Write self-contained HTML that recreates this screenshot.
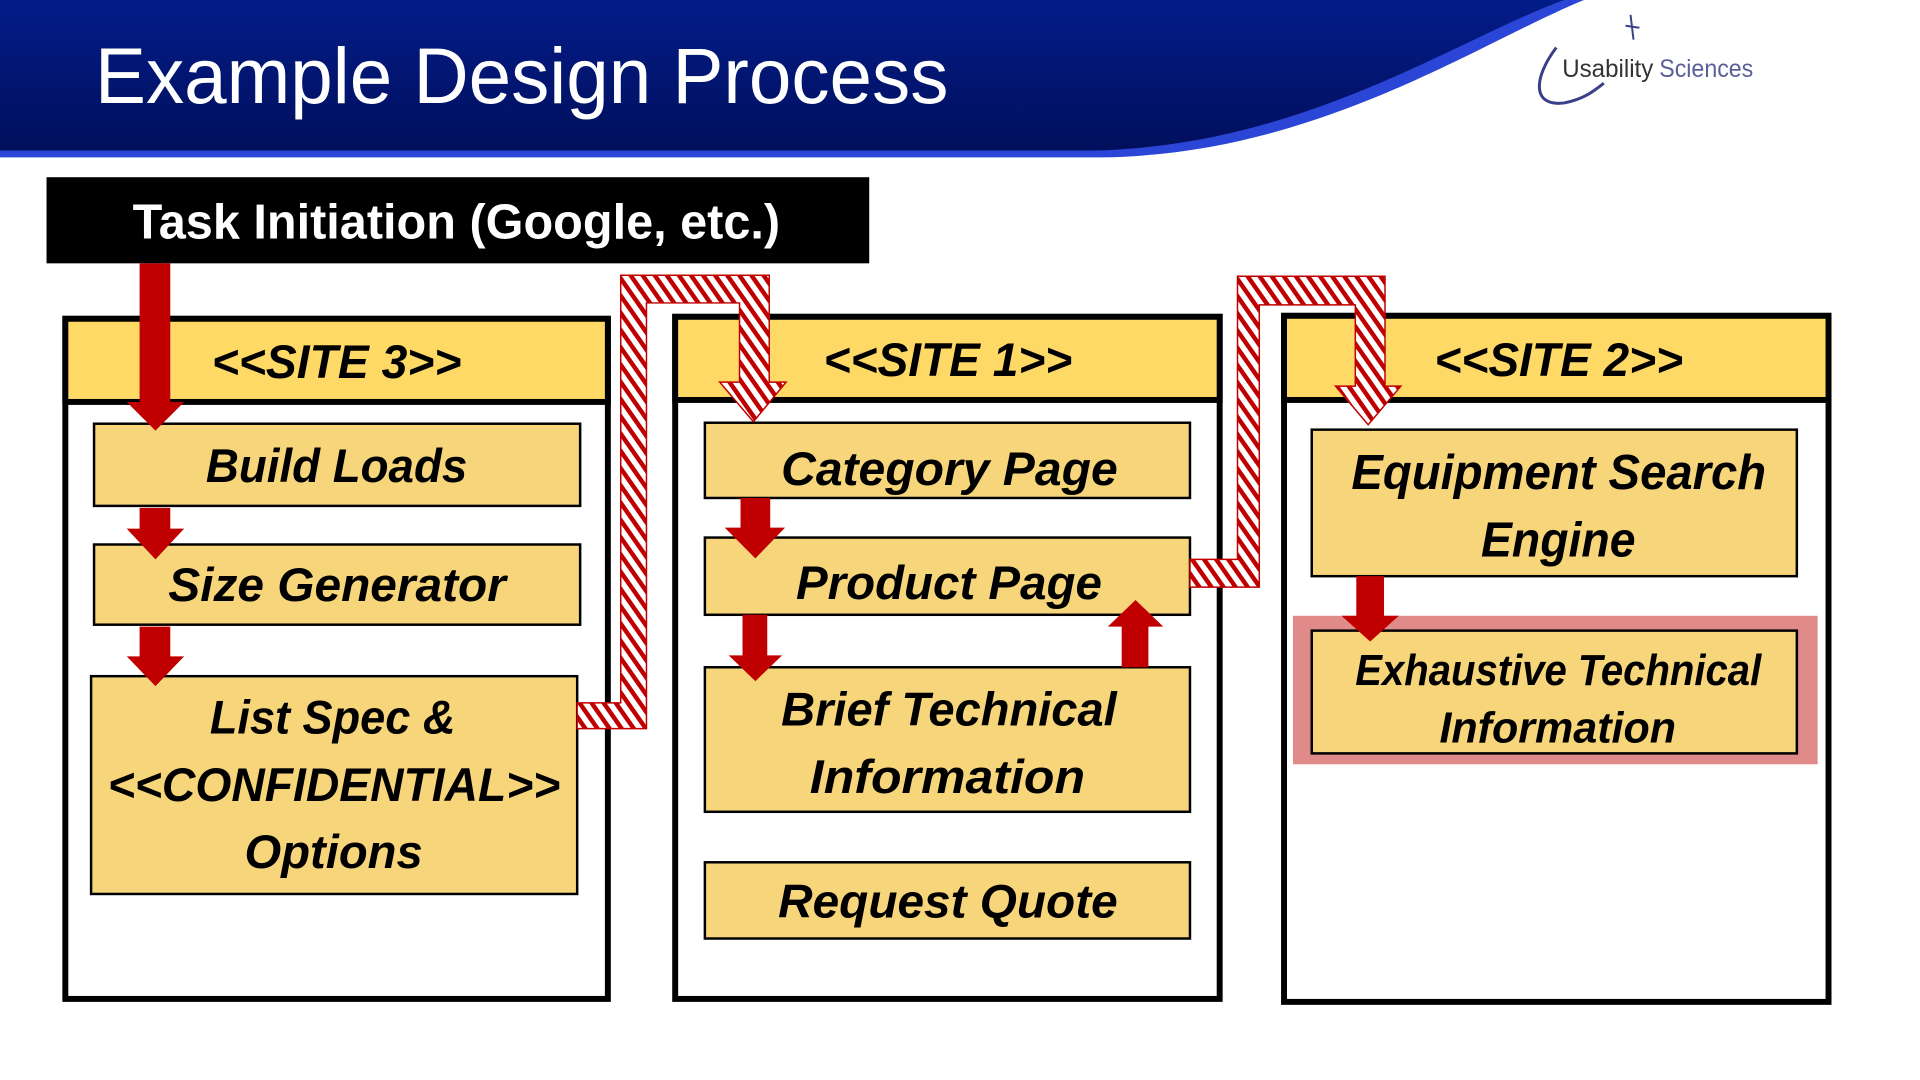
<!DOCTYPE html>
<html><head><meta charset="utf-8"><style>html,body{margin:0;padding:0;background:#fff}svg{display:block}</style></head>
<body>
<svg width="1920" height="1080" viewBox="0 0 1920 1080" xmlns="http://www.w3.org/2000/svg">
<defs>
<linearGradient id="bg" x1="0" y1="0" x2="0" y2="1">
<stop offset="0" stop-color="#021c88"/><stop offset="1" stop-color="#010f5c"/></linearGradient>
<pattern id="hatch" patternUnits="userSpaceOnUse" width="10" height="10" patternTransform="rotate(-35)">
<rect width="10" height="10" fill="#fff"/><rect width="4.5" height="10" fill="#c00000"/></pattern>
</defs>
<g transform="scale(0.99)">
<!-- header -->
<path d="M0,0 L1600,0 C1490,45 1330,156 1113,159 L0,159 Z" fill="#2b45d6"/>
<path d="M0,0 L1580,0 C1470,40 1320,146 1108,152 L0,152 Z" fill="url(#bg)"/>
<text x="96" y="104" font-family="Liberation Sans, sans-serif" font-size="80" fill="#fff" textLength="862" lengthAdjust="spacingAndGlyphs">Example Design Process</text>
<!-- logo -->
<path d="M1572,48 C1548,80 1548,108 1580,104 C1600,100 1610,92 1620,84" fill="none" stroke="#3a3f8a" stroke-width="3"/>
<path d="M1647,15 L1650,40 M1642,26 L1656,28" stroke="#3a3f8a" stroke-width="2"/>
<text x="1578" y="78" font-family="Liberation Sans, sans-serif" font-size="25" fill="#333" textLength="92" lengthAdjust="spacingAndGlyphs">Usability</text>
<text x="1676" y="78" font-family="Liberation Sans, sans-serif" font-size="25" fill="#5a5f9a" textLength="95" lengthAdjust="spacingAndGlyphs">Sciences</text>
<!-- task -->
<rect x="47" y="179" width="831" height="87" fill="#000"/>
<text x="134" y="241" font-family="Liberation Sans, sans-serif" font-weight="bold" font-size="50" fill="#fff" textLength="654" lengthAdjust="spacingAndGlyphs">Task Initiation (Google, etc.)</text>

<g stroke="#000" stroke-width="6">
<rect x="66" y="322" width="548" height="687" fill="#fff"/>
<rect x="66" y="322" width="548" height="84" fill="#ffd966"/>
<rect x="682" y="320" width="550" height="689" fill="#fff"/>
<rect x="682" y="320" width="550" height="84" fill="#ffd966"/>
<rect x="1297" y="319" width="550" height="693" fill="#fff"/>
<rect x="1297" y="319" width="550" height="85" fill="#ffd966"/>
</g>
<rect x="1306" y="622" width="530" height="150" fill="#e08a8a"/>
<g stroke="#000" stroke-width="2.5" fill="#f7d57a">
<rect x="95" y="428" width="491" height="83"/>
<rect x="95" y="550" width="491" height="81"/>
<rect x="92" y="683" width="491" height="220"/>
<rect x="712" y="427" width="490" height="76"/>
<rect x="712" y="543" width="490" height="78"/>
<rect x="712" y="674" width="490" height="146"/>
<rect x="712" y="871" width="490" height="77"/>
<rect x="1325" y="434" width="490" height="148"/>
<rect x="1325" y="637" width="490" height="124"/>
</g>
<g font-family="Liberation Sans, sans-serif" font-weight="bold" font-style="italic" fill="#000" font-size="48">
<text x="214" y="382" textLength="252" lengthAdjust="spacingAndGlyphs">&lt;&lt;SITE 3&gt;&gt;</text>
<text x="832" y="380" textLength="251" lengthAdjust="spacingAndGlyphs">&lt;&lt;SITE 1&gt;&gt;</text>
<text x="1449" y="380" textLength="251" lengthAdjust="spacingAndGlyphs">&lt;&lt;SITE 2&gt;&gt;</text>
<text x="208" y="487" textLength="264" lengthAdjust="spacingAndGlyphs">Build Loads</text>
<text x="170" y="607" textLength="341" lengthAdjust="spacingAndGlyphs">Size Generator</text>
<text x="212" y="741" textLength="248" lengthAdjust="spacingAndGlyphs">List Spec &amp;</text>
<text x="109" y="809" textLength="457" lengthAdjust="spacingAndGlyphs">&lt;&lt;CONFIDENTIAL&gt;&gt;</text>
<text x="247" y="877" textLength="180" lengthAdjust="spacingAndGlyphs">Options</text>
<text x="789" y="490" textLength="340" lengthAdjust="spacingAndGlyphs">Category Page</text>
<text x="804" y="605" textLength="309" lengthAdjust="spacingAndGlyphs">Product Page</text>
<text x="789" y="733" textLength="339" lengthAdjust="spacingAndGlyphs">Brief Technical</text>
<text x="818" y="801" textLength="278" lengthAdjust="spacingAndGlyphs">Information</text>
<text x="786" y="927" textLength="343" lengthAdjust="spacingAndGlyphs">Request Quote</text>
<text x="1365" y="494" textLength="419" lengthAdjust="spacingAndGlyphs" font-size="50">Equipment Search</text>
<text x="1496" y="562" textLength="156" lengthAdjust="spacingAndGlyphs" font-size="50">Engine</text>
<text x="1369" y="692" textLength="410" lengthAdjust="spacingAndGlyphs" font-size="44">Exhaustive Technical</text>
<text x="1454" y="750" textLength="239" lengthAdjust="spacingAndGlyphs" font-size="44">Information</text>
</g>
<!-- solid arrows -->
<g fill="#c00000">
<polygon points="141,266 172,266 172,406 186,406 157,435 128,406 141,406"/>
<polygon points="141,513 172,513 172,534 186,534 157,565 128,534 141,534"/>
<polygon points="141,633 172,633 172,663 186,663 157,693 128,663 141,663"/>
<polygon points="748,503 778,503 778,533 793,533 763,564 732,533 748,533"/>
<polygon points="750,621 775,621 775,662 790,662 763,688 736,662 750,662"/>
<polygon points="1133,674 1160,674 1160,633 1175,633 1147,606 1119,633 1133,633"/>
<polygon points="1370,582 1398,582 1398,622 1413,622 1384,648 1355,622 1370,622"/>
</g>
<!-- hatched arrows -->
<g fill="url(#hatch)" stroke="#c00000" stroke-width="1.5">
<polygon points="583,710 627,710 627,278 777,278 777,386 794,386 761,426 727,386 747,386 747,306 653,306 653,736 583,736"/>
<polygon points="1202,565 1250,565 1250,279 1399,279 1399,390 1415,390 1382,429 1349,390 1369,390 1369,308 1272,308 1272,593 1202,593"/>
</g>
</g>
</svg>
</body></html>
